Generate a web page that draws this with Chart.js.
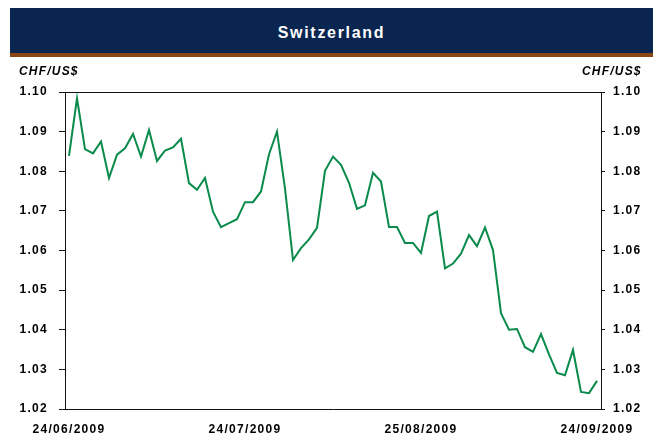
<!DOCTYPE html>
<html>
<head>
<meta charset="utf-8">
<script src="https://cdn.jsdelivr.net/npm/chart.js@4/dist/chart.umd.min.js"></script>
<style>
  html, body { margin: 0; padding: 0; background: #fff; }
  #wrap { position: relative; width: 653px; height: 440px; overflow: hidden; }
  #chart { position: absolute; left: 0; top: 0; }
  #bar { position: absolute; left: 10px; top: 8px; width: 643px; height: 45px; background: #0B2551; }
  #rule { position: absolute; left: 10px; top: 53px; width: 643px; height: 4px; background: #8B4712; }
  #title { position: absolute; left: 10px; top: 8px; width: 643px; height: 45px;
           text-align: center; color: #fff; font: bold 16px "Liberation Sans", Arial, sans-serif;
           line-height: 50px; letter-spacing: 1.7px; }
  .unit { position: absolute; top: 64px; font: italic bold 12px "Liberation Sans", Arial, sans-serif;
          letter-spacing: 1.2px; color: #000; }
</style>
</head>
<body>
<div id="wrap">
  <canvas id="chart" width="653" height="440"></canvas>
  <div id="bar"></div>
  <div id="rule"></div>
  <div id="title">Switzerland</div>
  <div class="unit" style="left:19px;">CHF/US$</div>
  <div class="unit" style="left:582px;">CHF/US$</div>
</div>
<script>
const dates = [
  '24/06/2009','25/06/2009','26/06/2009','29/06/2009','30/06/2009',
  '01/07/2009','02/07/2009','03/07/2009','06/07/2009','07/07/2009','08/07/2009','09/07/2009','10/07/2009',
  '13/07/2009','14/07/2009','15/07/2009','16/07/2009','17/07/2009','20/07/2009','21/07/2009','22/07/2009',
  '23/07/2009','24/07/2009','27/07/2009','28/07/2009','29/07/2009','30/07/2009','31/07/2009',
  '03/08/2009','04/08/2009','05/08/2009','06/08/2009','07/08/2009','10/08/2009','11/08/2009','12/08/2009',
  '13/08/2009','14/08/2009','17/08/2009','18/08/2009','19/08/2009','20/08/2009','21/08/2009','24/08/2009',
  '25/08/2009','26/08/2009','27/08/2009','28/08/2009','31/08/2009',
  '01/09/2009','02/09/2009','03/09/2009','04/09/2009','07/09/2009','08/09/2009','09/09/2009','10/09/2009',
  '11/09/2009','14/09/2009','15/09/2009','16/09/2009','17/09/2009','18/09/2009','21/09/2009','22/09/2009',
  '23/09/2009','24/09/2009'
];
const chfPerUsd = [
  1.0839, 1.0984, 1.0856, 1.0845, 1.0875, 1.0783, 1.0842, 1.0858, 1.0894, 1.0837,
  1.0904, 1.0826, 1.0852, 1.0860, 1.0882, 1.0770, 1.0753, 1.0783, 1.0698, 1.0659,
  1.0669, 1.0679, 1.0722, 1.0722, 1.0749, 1.0843, 1.0900, 1.0756, 1.0576, 1.0606,
  1.0628, 1.0657, 1.0801, 1.0837, 1.0816, 1.0771, 1.0705, 1.0714, 1.0796, 1.0774,
  1.0659, 1.0659, 1.0619, 1.0619, 1.0594, 1.0687, 1.0698, 1.0555, 1.0567, 1.0592,
  1.0639, 1.0611, 1.0658, 1.0601, 1.0442, 1.0400, 1.0402, 1.0356, 1.0344, 1.0389,
  1.0338, 1.0291, 1.0285, 1.0349, 1.0243, 1.0240, 1.0271
];
const xTickLabels = ['24/06/2009', '24/07/2009', '25/08/2009', '24/09/2009'];
const yMin = 1.02, yMax = 1.10, yStep = 0.01;

const frame = {
  id: 'frame',
  beforeDraw(chart) { chart.ctx.letterSpacing = '1.3px'; },
  afterDatasetsDraw(chart) {
    const a = chart.chartArea, ctx = chart.ctx;
    ctx.save();
    ctx.strokeStyle = '#111';
    ctx.lineWidth = 1;
    ctx.beginPath();
    ctx.moveTo(a.left, Math.round(a.top) + 0.5);
    ctx.lineTo(a.right, Math.round(a.top) + 0.5);
    ctx.stroke();
    ctx.restore();
  }
};

const tickFont = { family: '"Liberation Sans", Arial, sans-serif', size: 12, weight: 'bold' };

new Chart(document.getElementById('chart'), {
  type: 'line',
  data: {
    labels: dates,
    datasets: [{
      data: chfPerUsd,
      borderColor: '#0A8A4B',
      borderWidth: 2,
      pointRadius: 0,
      tension: 0,
      fill: false
    }]
  },
  options: {
    responsive: false,
    animation: false,
    events: [],
    layout: { padding: { left: 0, right: 0, top: 92, bottom: 0 } },
    plugins: { legend: { display: false }, tooltip: { enabled: false }, title: { display: false } },
    scales: {
      x: {
        type: 'category',
        offset: true,
        grid: { display: false, drawTicks: false },
        border: { display: true, color: '#111', width: 1 },
        ticks: {
          autoSkip: false, maxRotation: 0, minRotation: 0, padding: 13,
          color: '#000', font: tickFont,
          callback(v) { const l = this.getLabelForValue(v); return xTickLabels.includes(l) ? l : ''; }
        },
        afterFit(s) { s.height = 31; }
      },
      y: {
        position: 'left',
        min: yMin, max: yMax,
        grid: { display: true, drawOnChartArea: false, drawTicks: true, tickLength: 6, color: '#111' },
        border: { display: true, color: '#111', width: 1 },
        ticks: { stepSize: yStep, padding: 11, color: '#000', font: tickFont,
                 callback: v => v.toFixed(2) },
        afterFit(s) { s.width = 65; }
      },
      y2: {
        position: 'right',
        min: yMin, max: yMax,
        grid: { display: true, drawOnChartArea: false, drawTicks: true, tickLength: 4, color: '#111' },
        border: { display: true, color: '#111', width: 1 },
        ticks: { stepSize: yStep, padding: 8, color: '#000', font: tickFont,
                 callback: v => v.toFixed(2) },
        afterFit(s) { s.width = 52; }
      }
    }
  },
  plugins: [frame]
});
</script>
</body>
</html>
